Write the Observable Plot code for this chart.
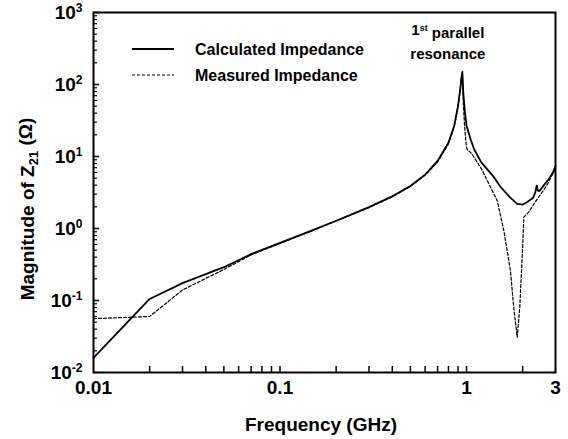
<!DOCTYPE html>
<html><head><meta charset="utf-8">
<script src="https://cdn.jsdelivr.net/npm/d3@7"></script>
<script src="https://cdn.jsdelivr.net/npm/@observablehq/plot@0.6"></script>
<style>
body{margin:0;background:#fff}
#chart{position:relative;width:568px;height:439px}
svg{font-family:'Liberation Sans',Arial,sans-serif;font-weight:bold}
</style>
</head><body><div id="chart"></div>
<script>
// Calculated impedance (solid)
const calcFreq = [0.01, 0.02, 0.03, 0.05, 0.07, 0.1, 0.15, 0.2, 0.3, 0.4, 0.5, 0.6, 0.7, 0.8, 0.86, 0.9, 0.925, 0.94, 0.95, 0.96, 0.98, 1.0, 1.05, 1.1, 1.2, 1.4, 1.52, 1.7, 1.87, 2.0, 2.1, 2.2, 2.28, 2.34, 2.38, 2.41, 2.45, 2.5, 2.6, 2.75, 2.9, 3.0];
const calcZ = [0.016, 0.105, 0.174, 0.29, 0.44, 0.63, 0.95, 1.28, 1.98, 2.8, 3.9, 5.6, 8.7, 15.5, 27, 50, 85, 125, 150, 80, 42, 27, 17.5, 12.5, 8.3, 5.2, 3.8, 2.75, 2.2, 2.15, 2.3, 2.5, 2.7, 3.2, 3.95, 3.4, 3.3, 3.5, 4.0, 4.8, 5.9, 7.4];
// Measured impedance (dashed)
const measFreq = [0.01, 0.02, 0.03, 0.05, 0.07, 0.1, 0.15, 0.2, 0.3, 0.4, 0.5, 0.6, 0.7, 0.8, 0.86, 0.9, 0.925, 0.94, 0.95, 0.96, 0.975, 0.99, 1.0, 1.01, 1.065, 1.2, 1.345, 1.46, 1.585, 1.72, 1.79, 1.87, 1.93, 1.96, 2.0, 2.03, 2.16, 2.3, 2.5, 2.7, 2.9, 3.0];
const measZ = [0.056, 0.06, 0.14, 0.27, 0.43, 0.62, 0.94, 1.27, 1.95, 2.75, 3.85, 5.5, 8.4, 15, 26, 48, 85, 130, 148, 60, 28, 17, 13.5, 12.5, 11, 6.8, 3.75, 2.45, 0.94, 0.26, 0.081, 0.031, 0.08, 0.19, 0.55, 1.44, 1.7, 2.2, 3.0, 4.0, 5.75, 6.6];

const xTickLabels = [0.01, 0.1, 1, 3];
const xTickMarks = [0.02, 0.03, 0.04, 0.05, 0.06, 0.07, 0.08, 0.09, 0.1, 0.2, 0.3, 0.4, 0.5, 0.6, 0.7, 0.8, 0.9, 1, 2];
const yTickExps = [-2, -1, 0, 1, 2, 3];
const seriesNames = ["Calculated Impedance", "Measured Impedance"];
const xLabel = "Frequency (GHz)";
const annotation = ["1", "st", " parallel", "resonance"];
const peakFreq = 0.95;

const calc = calcFreq.map((f, i) => ({f, z: calcZ[i]}));
const meas = measFreq.map((f, i) => ({f, z: measZ[i]}));
const yMajor = yTickExps.map(e => Math.pow(10, e));
const yMinor = [];
for (const e of yTickExps.slice(0, -1)) for (let k = 2; k <= 9; k++) yMinor.push(k * Math.pow(10, e));

const W = 568, H = 439, mL = 93, mR = 13, mT = 12, mB = 67;
const frameW = W - mL - mR, frameH = H - mT - mB;

const plot = Plot.plot({
  width: W, height: H,
  marginLeft: mL, marginRight: mR, marginTop: mT, marginBottom: mB,
  x: {type: "log", domain: [0.01, 3], axis: null},
  y: {type: "log", domain: [0.01, 1000], axis: null},
  style: {fontFamily: "'Liberation Sans', Arial, sans-serif", fontWeight: "bold", fontSize: "19px", color: "#000", background: "#fff", overflow: "visible"},
  marks: [
    Plot.ruleX(xTickMarks, {x: d => d, insetTop: frameH - 6, stroke: "#000", strokeWidth: 1.5}),
    Plot.ruleY(yMinor, {y: d => d, insetRight: frameW - 4, stroke: "#000", strokeWidth: 1.2}),
    Plot.ruleY(yMajor, {y: d => d, insetRight: frameW - 6, stroke: "#000", strokeWidth: 1.5}),
    Plot.text(xTickLabels, {x: d => d, text: d => String(d), frameAnchor: "bottom", dy: 21, fontSize: 19, fontWeight: "bold", fill: "#000"}),
    Plot.text(yMajor, {y: d => d, text: d => "10^" + Math.round(Math.log10(d)), frameAnchor: "left", textAnchor: "end", dx: -11, fontSize: 19, fontWeight: "bold", fill: "#000"}),
    Plot.line(calc, {x: "f", y: "z", stroke: "#000", strokeWidth: 1.8}),
    Plot.line(meas, {x: "f", y: "z", stroke: "#000", strokeWidth: 1.2, strokeDasharray: "3,2"}),
    Plot.frame({stroke: "#000", strokeWidth: 2})
  ]
});
document.getElementById("chart").appendChild(plot);

const svg = d3.select(plot);
// superscript exponents on y tick labels
svg.selectAll("text").each(function() {
  const t = d3.select(this);
  const s = t.text();
  if (s.startsWith("10^")) {
    const exp = s.slice(3);
    t.text("");
    t.append("tspan").text("10");
    t.append("tspan").attr("dy", "-0.55em").attr("font-size", "12px").text(exp);
  }
});
const xs = plot.scale("x");
const pLeft = mL, pRight = W - mR, pTop = mT, pBottom = H - mB;

// axis titles
svg.append("text").attr("x", (pLeft + pRight) / 2 - 3).attr("y", 431).attr("text-anchor", "middle")
  .attr("font-size", "19px").attr("font-weight", "bold").text(xLabel);
const yl = svg.append("text").attr("transform", `translate(34,209) rotate(-90)`)
  .attr("text-anchor", "middle").attr("font-size", "19px").attr("font-weight", "bold");
yl.append("tspan").text("Magnitude of Z");
yl.append("tspan").attr("dy", "0.3em").attr("font-size", "13px").text("21");
yl.append("tspan").attr("dy", "-0.3em").text(" (Ω)");

// legend
const lg = svg.append("g");
[0, 1].forEach(i => {
  const y = 49 + i * 26;
  lg.append("line").attr("x1", 132).attr("x2", 174).attr("y1", y).attr("y2", y)
    .attr("stroke", "#000").attr("stroke-width", i ? 1.2 : 2).attr("stroke-dasharray", i ? "3,2" : null);
  lg.append("text").attr("x", 195).attr("y", y).attr("dy", "0.35em").attr("font-size", "16px")
    .attr("text-anchor", "start").attr("font-weight", "bold").text(seriesNames[i]);
});

// annotation
const ax = xs.apply(peakFreq) - 14;
const a1 = svg.append("text").attr("x", ax).attr("y", 35).attr("text-anchor", "middle").attr("font-size", "15px").attr("font-weight", "bold");
a1.append("tspan").text(annotation[0]);
a1.append("tspan").attr("dy", "-0.5em").attr("font-size", "9px").text(annotation[1]);
a1.append("tspan").attr("dy", "0.5em").text(annotation[2]);
svg.append("text").attr("x", ax).attr("y", 59).attr("text-anchor", "middle").attr("font-size", "15px").attr("font-weight", "bold").text(annotation[3]);
</script>
</body></html>
